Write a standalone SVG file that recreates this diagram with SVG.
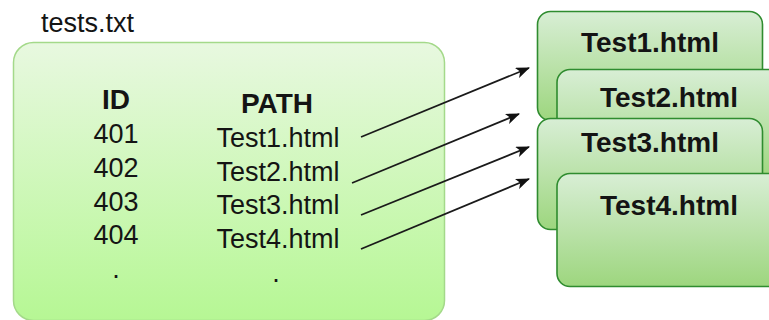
<svg xmlns="http://www.w3.org/2000/svg" width="769" height="320" viewBox="0 0 769 320">
  <defs>
    <linearGradient id="fileFill" x1="0" y1="0" x2="0" y2="1">
      <stop offset="0" stop-color="#e8f8e0"/>
      <stop offset="1" stop-color="#b6f794"/>
    </linearGradient>
    <linearGradient id="pageFill" x1="0" y1="0" x2="0" y2="1">
      <stop offset="0" stop-color="#d8eed5"/>
      <stop offset="1" stop-color="#9dd67e"/>
    </linearGradient>
    <marker id="arrow" viewBox="0 0 14 11" refX="13" refY="5.5" markerWidth="14" markerHeight="11" markerUnits="userSpaceOnUse" orient="auto">
      <path d="M0,0 L14,5.5 L0,11 L3.5,5.5 Z" fill="#111"/>
    </marker>
  </defs>
  <style>
    text { font-family: "Liberation Sans", Arial, Helvetica, sans-serif; fill: #141414; }
    .lbl { font-size: 27px; }
    .hdr { font-size: 28px; font-weight: bold; }
    .mid { text-anchor: middle; }
    .page { fill: url(#pageFill); stroke: #2f8c2f; stroke-width: 1.6; }
    .page-title { font-size: 28px; font-weight: bold; text-anchor: middle; }
    .conn { stroke: #1a1a1a; stroke-width: 1.8; fill: none; marker-end: url(#arrow); }
  </style>

  <rect width="769" height="320" fill="#ffffff"/>

  <!-- source file with its table -->
  <g id="tests-file">
    <text class="lbl" x="41" y="32">tests.txt</text>
    <rect x="13.5" y="42.5" width="431" height="278" rx="20" ry="20" fill="url(#fileFill)" stroke="#a4d98a" stroke-width="1.5"/>
    <text class="hdr mid" x="116" y="109">ID</text>
    <text class="hdr mid" x="277" y="113">PATH</text>
    <text class="lbl mid" x="116" y="143">401</text>
    <text class="lbl mid" x="278" y="147">Test1.html</text>
    <text class="lbl mid" x="116" y="177">402</text>
    <text class="lbl mid" x="278" y="181">Test2.html</text>
    <text class="lbl mid" x="116" y="211">403</text>
    <text class="lbl mid" x="278" y="214">Test3.html</text>
    <text class="lbl mid" x="116" y="244">404</text>
    <text class="lbl mid" x="278" y="248">Test4.html</text>
    <text class="lbl mid" x="116" y="278">.</text>
    <text class="lbl mid" x="276" y="282">.</text>
  </g>

  <!-- generated pages, stacked -->
  <g id="page-test1">
    <rect class="page" x="537.5" y="11.5" width="225" height="109" rx="13" ry="13"/>
    <text class="page-title" x="650" y="52">Test1.html</text>
  </g>
  <g id="page-test2">
    <rect class="page" x="557" y="69.5" width="225" height="110" rx="13" ry="13"/>
    <text class="page-title" x="669" y="107">Test2.html</text>
  </g>
  <g id="page-test3">
    <rect class="page" x="537.5" y="118.5" width="225" height="111" rx="13" ry="13"/>
    <text class="page-title" x="650" y="152">Test3.html</text>
  </g>
  <g id="page-test4">
    <rect class="page" x="557" y="173.5" width="225" height="113" rx="13" ry="13"/>
    <text class="page-title" x="669" y="215">Test4.html</text>
  </g>

  <!-- connectors from table rows to pages -->
  <g id="connectors">
    <line class="conn" x1="361" y1="137" x2="529" y2="68"/>
    <line class="conn" x1="352" y1="183" x2="519" y2="114"/>
    <line class="conn" x1="361" y1="215" x2="529" y2="147"/>
    <line class="conn" x1="361" y1="249" x2="529" y2="179"/>
  </g>
</svg>
